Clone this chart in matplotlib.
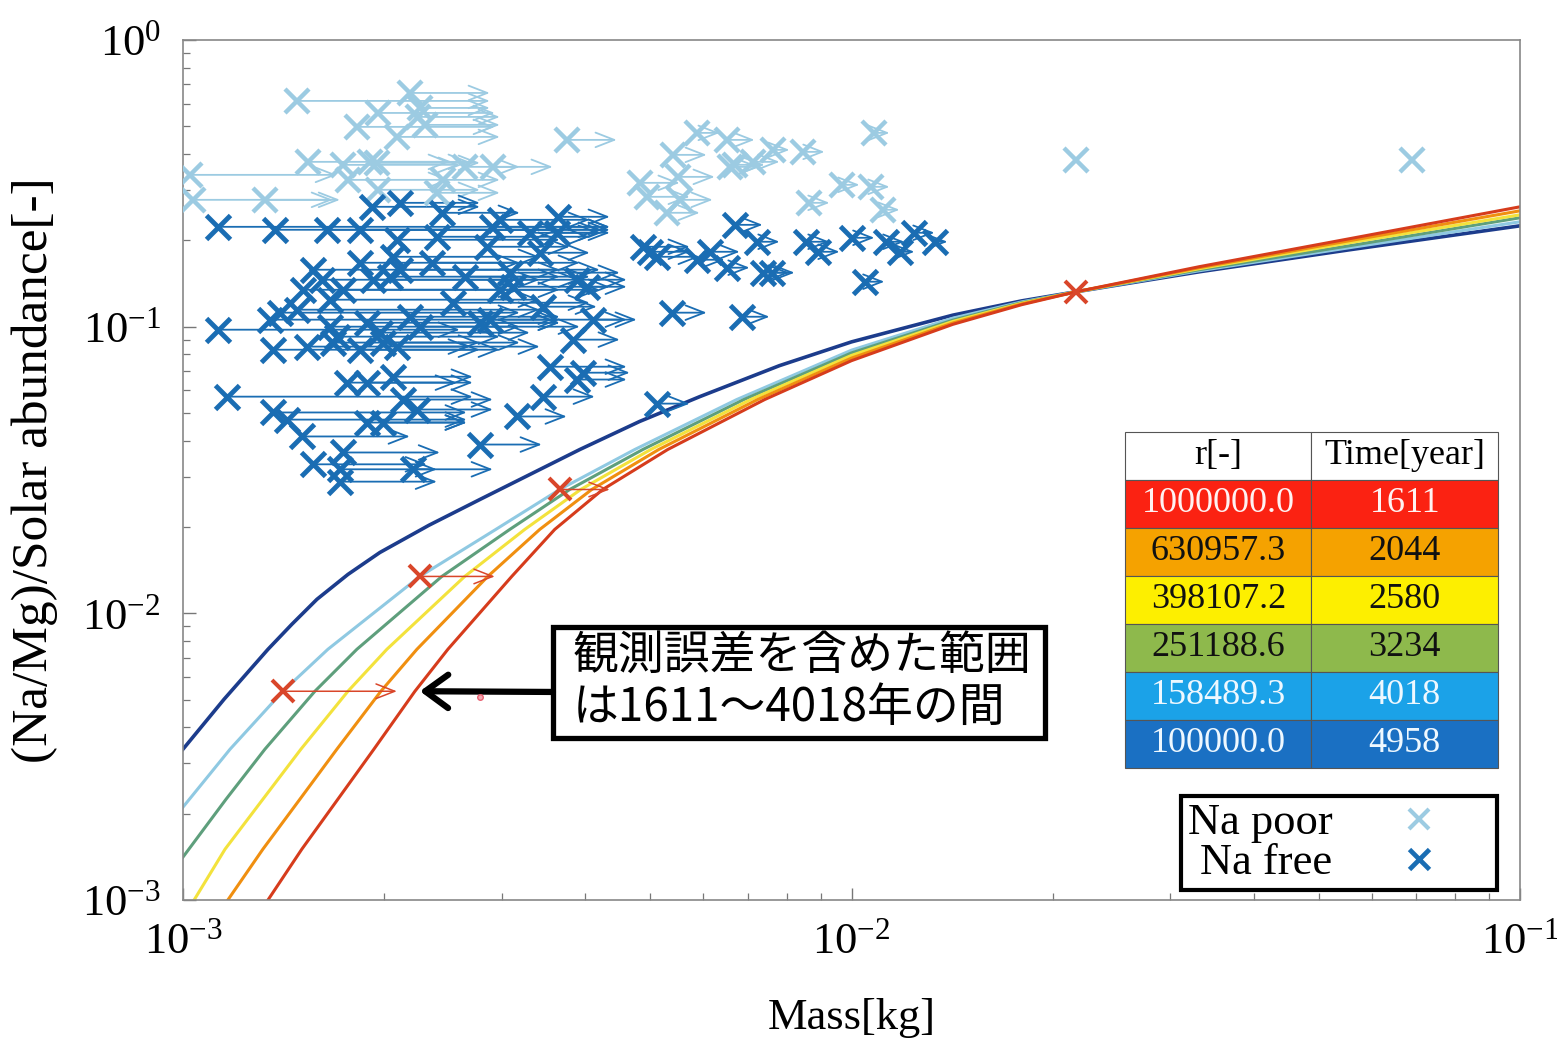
import numpy as np
import matplotlib
matplotlib.use('Agg')
import matplotlib.pyplot as plt
from matplotlib.lines import Line2D
from matplotlib.patches import Rectangle

plt.rcParams['font.family'] = ['Liberation Serif', 'DejaVu Serif']
plt.rcParams['mathtext.fontset'] = 'custom'
plt.rcParams['mathtext.rm'] = 'Liberation Serif'

# ---------------- model curves (one per r value) ----------------
curve_colors = ['#1c3c8c', '#8fc9e2', '#5e9f7c', '#f3e23c', '#f08f10', '#d63c1c']
curve_lw = [2.6, 2.2, 2.2, 2.2, 2.2, 2.2]

navy_x = [1.000e-3, 1.152e-3, 1.340e-3, 1.455e-3, 1.586e-3, 1.765e-3, 1.970e-3, 2.334e-3, 2.780e-3, 3.922e-3,
          4.82e-3, 5.929e-3, 7.80e-3, 1.0e-2, 1.418e-2, 1.797e-2, 2.170e-2, 3.313e-2, 5.553e-2, 1.0e-1]
navy_y = [3.358e-3, 5.016e-3, 7.490e-3, 9.16e-3, 1.119e-2, 1.367e-2, 1.630e-2, 2.03e-2, 2.495e-2, 3.727e-2,
          4.67e-2, 5.70e-2, 7.31e-2, 8.85e-2, 0.1097, 0.1230, 0.1324, 0.1554, 0.1854, 0.2248]

lblue_x = [1.000e-3, 1.176e-3, 1.411e-3, 1.647e-3, 2.261e-3, 2.937e-3, 3.660e-3, 4.739e-3, 6.733e-3,
           1.0e-2, 1.418e-2, 1.797e-2, 2.170e-2, 3.313e-2, 5.553e-2, 1.0e-1]
lblue_y = [2.109e-3, 3.358e-3, 5.348e-3, 7.490e-3, 1.345e-2, 1.962e-2, 2.704e-2, 3.727e-2, 5.567e-2,
           8.28e-2, 0.1071, 0.1220, 0.1324, 0.1567, 0.1885, 0.2322]

teal_x = [1.000e-3, 1.160e-3, 1.326e-3, 1.575e-3, 1.820e-3, 2.439e-3, 3.082e-3, 3.789e-3, 4.872e-3,
          6.898e-3, 1.0e-2, 1.418e-2, 1.797e-2, 2.170e-2, 3.313e-2, 5.553e-2, 1.0e-1]
teal_y = [1.412e-3, 2.248e-3, 3.358e-3, 5.348e-3, 7.490e-3, 1.345e-2, 1.962e-2, 2.704e-2, 3.727e-2,
          5.567e-2, 8.10e-2, 0.1054, 0.1213, 0.1324, 0.1580, 0.1915, 0.2398]

yellow_x = [1.039e-3, 1.156e-3, 1.317e-3, 1.501e-3, 1.765e-3, 2.018e-3, 2.639e-3, 3.245e-3, 3.935e-3,
            5.007e-3, 7.063e-3, 1.0e-2, 1.418e-2, 1.797e-2, 2.170e-2, 3.313e-2, 5.553e-2, 1.0e-1]
yellow_y = [1.000e-3, 1.505e-3, 2.248e-3, 3.358e-3, 5.348e-3, 7.490e-3, 1.345e-2, 1.962e-2, 2.704e-2,
            3.727e-2, 5.567e-2, 7.94e-2, 0.1043, 0.1207, 0.1324, 0.1593, 0.1962, 0.2456]

orange_x = [1.167e-3, 1.317e-3, 1.496e-3, 1.699e-3, 1.977e-3, 2.238e-3, 2.857e-3, 3.417e-3, 4.087e-3,
            5.147e-3, 7.235e-3, 1.0e-2, 1.418e-2, 1.797e-2, 2.170e-2, 3.313e-2, 5.553e-2, 1.0e-1]
orange_y = [1.000e-3, 1.505e-3, 2.248e-3, 3.358e-3, 5.348e-3, 7.490e-3, 1.345e-2, 1.962e-2, 2.704e-2,
            3.727e-2, 5.567e-2, 7.77e-2, 0.1030, 0.1200, 0.1324, 0.1606, 0.1994, 0.2536]

red_x = [1.340e-3, 1.506e-3, 1.705e-3, 1.930e-3, 2.223e-3, 2.490e-3, 3.103e-3, 3.598e-3, 4.245e-3,
         5.309e-3, 7.413e-3, 1.0e-2, 1.418e-2, 1.797e-2, 2.170e-2, 3.313e-2, 5.553e-2, 1.0e-1]
red_y = [1.000e-3, 1.505e-3, 2.248e-3, 3.358e-3, 5.348e-3, 7.490e-3, 1.345e-2, 1.962e-2, 2.704e-2,
         3.727e-2, 5.567e-2, 7.61e-2, 0.1019, 0.1193, 0.1324, 0.1619, 0.2026, 0.2619]

curves_x = [navy_x, lblue_x, teal_x, yellow_x, orange_x, red_x]
curves_y = [navy_y, lblue_y, teal_y, yellow_y, orange_y, red_y]

# ---------------- red markers (observation with errors) ----------------
obs_mass = [1.411e-3, 2.261e-3, 3.660e-3, 2.17e-2]
obs_ratio = [5.348e-3, 1.345e-2, 2.704e-2, 0.1324]
obs_mass_end = [2.089e-3, 2.927e-3, 4.349e-3, np.nan]

# ---------------- Na poor (light blue) ----------------
poor_mass = [1.024e-3, 1.035e-3, 1.326e-3, 1.480e-3, 2.184e-3, 1.820e-3, 1.956e-3, 2.089e-3, 2.246e-3, 2.300e-3,
             2.261e-3, 1.538e-3, 1.735e-3, 1.765e-3, 1.903e-3, 1.950e-3, 2.639e-3, 2.907e-3, 2.448e-3, 1.956e-3,
             2.398e-3, 3.750e-3, 5.868e-3, 6.506e-3, 5.401e-3, 7.112e-3, 8.449e-3, 7.620e-3, 6.573e-3, 6.687e-3,
             4.822e-3, 4.939e-3, 5.495e-3, 5.533e-3, 5.291e-3, 1.082e-2, 9.694e-3, 1.071e-2, 1.113e-2, 8.653e-3,
             2.170e-2, 6.898e-2]
poor_ratio = [0.3385, 0.2770, 0.2770, 0.6131, 0.6536, 0.4977, 0.5566, 0.4592, 0.5391, 0.5057,
              0.5795, 0.3758, 0.3669, 0.3252, 0.3758, 0.3728, 0.3610, 0.3610, 0.3252, 0.3002,
              0.2931, 0.4483, 0.4742, 0.4483, 0.3975, 0.3758, 0.4072, 0.4137, 0.3610, 0.3669,
              0.3175, 0.2838, 0.3331, 0.2770, 0.2496, 0.4742, 0.3125, 0.3075, 0.2557, 0.2704,
              0.3819, 0.3819]
poor_mass_end = [1.699e-3, 1.717e-3, 1.676e-3, 2.877e-3, 2.877e-3, 2.927e-3, 2.927e-3, 2.978e-3, 2.978e-3, 2.978e-3,
                 2.877e-3, 2.507e-3, 2.594e-3, 2.507e-3, 2.685e-3, 2.780e-3, 3.190e-3, 3.573e-3, 2.978e-3, 2.780e-3,
                 2.978e-3, 4.455e-3, 6.351e-3, 7.161e-3, 6.073e-3, 7.805e-3, 9.113e-3, 8.078e-3, 7.286e-3, 7.413e-3,
                 5.533e-3, 5.728e-3, 6.243e-3, 6.200e-3, 5.929e-3, 1.140e-2, 1.028e-2, 1.140e-2, 1.180e-2, 9.271e-3,
                 np.nan, np.nan]

# ---------------- Na free (dark blue) ----------------
free_mass = [1.128e-3, 1.373e-3, 1.642e-3, 1.839e-3, 1.916e-3, 2.110e-3, 2.439e-3, 2.089e-3, 2.398e-3, 2.897e-3,
             2.978e-3, 3.302e-3, 3.635e-3, 3.622e-3, 3.417e-3, 2.847e-3, 1.839e-3, 2.060e-3, 2.356e-3, 1.564e-3,
             1.614e-3, 1.512e-3, 1.735e-3, 1.659e-3, 1.923e-3, 2.039e-3, 2.110e-3, 2.639e-3, 3.082e-3, 3.114e-3,
             3.881e-3, 4.018e-3, 2.533e-3, 2.978e-3, 3.453e-3, 1.128e-3, 1.349e-3, 1.396e-3, 1.480e-3, 1.659e-3,
             1.699e-3, 1.884e-3, 1.970e-3, 2.184e-3, 2.261e-3, 2.780e-3, 2.877e-3, 4.101e-3, 3.828e-3, 1.363e-3,
             1.532e-3, 1.676e-3, 1.839e-3, 1.991e-3, 2.089e-3, 3.537e-3, 3.881e-3, 3.962e-3, 1.163e-3, 1.759e-3,
             1.884e-3, 2.060e-3, 2.132e-3, 2.238e-3, 3.453e-3, 3.157e-3, 1.363e-3, 1.431e-3, 1.506e-3, 1.884e-3,
             1.991e-3, 2.780e-3, 1.564e-3, 1.735e-3, 1.717e-3, 1.717e-3, 2.207e-3, 6.687e-3, 7.211e-3, 8.563e-3,
             8.896e-3, 1.003e-2, 1.128e-2, 1.180e-2, 1.242e-2, 1.331e-2, 4.872e-3, 5.112e-3, 4.990e-3, 5.868e-3,
             6.136e-3, 6.506e-3, 7.362e-3, 7.594e-3, 1.046e-2, 5.383e-3, 6.851e-3, 5.112e-3]
free_ratio = [0.2230, 0.2178, 0.2178, 0.2178, 0.2619, 0.2704, 0.2496, 0.2010, 0.2059, 0.2230,
              0.2359, 0.2126, 0.2417, 0.2126, 0.1811, 0.1900, 0.1671, 0.1753, 0.1671, 0.1580,
              0.1458, 0.1345, 0.1345, 0.1242, 0.1458, 0.1494, 0.1580, 0.1494, 0.1543, 0.1378,
              0.1458, 0.1378, 0.1212, 0.1345, 0.1174, 0.0976, 0.1058, 0.1119, 0.1146, 0.1000,
              0.0923, 0.1032, 0.0953, 0.1083, 0.1000, 0.1032, 0.1058, 0.1058, 0.0901, 0.0831,
              0.0852, 0.0880, 0.0831, 0.0880, 0.0852, 0.0725, 0.0654, 0.0691, 0.0570, 0.0638,
              0.0638, 0.0669, 0.0557, 0.0514, 0.0570, 0.0486, 0.0502, 0.0474, 0.0414, 0.0463,
              0.0463, 0.0388, 0.0331, 0.0364, 0.0318, 0.0288, 0.0318, 0.2266, 0.1978, 0.1978,
              0.1825, 0.2042, 0.1978, 0.1825, 0.2126, 0.1978, 0.1900, 0.1753, 0.1825, 0.1712,
              0.1825, 0.1606, 0.1543, 0.1543, 0.1435, 0.1119, 0.1083, 0.0539]
free_mass_end = [4.349e-3, 4.349e-3, 4.202e-3, 3.660e-3, 2.780e-3, 2.780e-3, 3.190e-3, 3.660e-3, 4.059e-3, 4.349e-3,
                 4.059e-3, 4.349e-3, 4.349e-3, 4.202e-3, 4.059e-3, 3.789e-3, 3.190e-3, 3.417e-3, 3.922e-3, 3.660e-3,
                 3.417e-3, 3.190e-3, 3.660e-3, 3.417e-3, 3.922e-3, 3.660e-3, 4.202e-3, 4.059e-3, 4.501e-3, 4.349e-3,
                 4.611e-3, 4.611e-3, 4.059e-3, 4.202e-3, 4.159e-3, 2.594e-3, 3.660e-3, 3.190e-3, 3.417e-3, 3.190e-3,
                 2.978e-3, 3.660e-3, 3.302e-3, 3.660e-3, 3.922e-3, 3.660e-3, 4.611e-3, 4.772e-3, 4.501e-3, 2.780e-3,
                 2.685e-3, 2.780e-3, 2.978e-3, 3.190e-3, 3.417e-3, 4.611e-3, 4.611e-3, 4.659e-3, 2.713e-3, 2.713e-3,
                 2.568e-3, 2.713e-3, 2.907e-3, 2.907e-3, 4.130e-3, 3.750e-3, 2.657e-3, 2.657e-3, 2.184e-3, 2.657e-3,
                 2.657e-3, 3.441e-3, 2.316e-3, 2.423e-3, 2.907e-3, 2.398e-3, 2.398e-3, 7.362e-3, 7.805e-3, 9.271e-3,
                 9.596e-3, 1.082e-2, 1.200e-2, 1.242e-2, 1.331e-2, 1.392e-2, 5.728e-3, 5.929e-3, 5.728e-3, 6.461e-3,
                 6.804e-3, 7.039e-3, 8.078e-3, 8.219e-3, 1.120e-2, 6.073e-3, 7.540e-3, 5.728e-3]

# ---------------- table ----------------
table_r = ['1000000.0', '630957.3', '398107.2', '251188.6', '158489.3', '100000.0']
table_time = ['1611', '2044', '2580', '3234', '4018', '4958']
table_colors = ['#fb2212', '#f5a200', '#fdef00', '#8eb94c', '#1ba2e8', '#1a70c3']
table_text_colors = ['#fff2f2', '#111111', '#111111', '#111111', '#eef8ff', '#eef8ff']

xticks = [1e-3, 1e-2, 1e-1]
xtick_labels = [r'$\mathregular{10^{-3}}$', r'$\mathregular{10^{-2}}$', r'$\mathregular{10^{-1}}$']
yticks = [1e-3, 1e-2, 1e-1, 1e0]
ytick_labels = [r'$\mathregular{10^{-3}}$', r'$\mathregular{10^{-2}}$', r'$\mathregular{10^{-1}}$', r'$\mathregular{10^{0}}$']

note_text = '観測誤差を含めた範囲\nは1611～4018年の間'
note_target = (2.24e-3, 5.35e-3)

poor_color = '#9ccbe2'
free_color = '#1a6db3'
obs_color = '#d9462a'

fig = plt.figure(figsize=(15.57, 10.44), dpi=100)
ax = fig.add_axes([183 / 1557, 1 - 900 / 1044, 1337 / 1557, 860 / 1044])
ax.set_xscale('log')
ax.set_yscale('log')
ax.set_xlim(1e-3, 1e-1)
ax.set_ylim(1e-3, 1e0)

for cx, cy, c, lw in zip(curves_x, curves_y, curve_colors, curve_lw):
    ax.plot(cx, cy, color=c, lw=lw, zorder=2, solid_joinstyle='round')

def draw_arrows(xs, ys, xe, color, lw, ms):
    for x0, y0, x1 in zip(xs, ys, xe):
        if np.isnan(x1):
            continue
        ax.annotate('', xy=(x1, y0), xytext=(x0, y0),
                    arrowprops=dict(arrowstyle='->,head_length=0.9,head_width=0.35',
                                    color=color, lw=lw, shrinkA=0, shrinkB=0,
                                    mutation_scale=ms), zorder=3)

draw_arrows(poor_mass, poor_ratio, poor_mass_end, poor_color, 1.3, 15)
ax.plot(poor_mass, poor_ratio, linestyle='none', marker='x', ms=17, mew=3.2,
        color=poor_color, zorder=4)
draw_arrows(free_mass, free_ratio, free_mass_end, free_color, 1.3, 15)
ax.plot(free_mass, free_ratio, linestyle='none', marker='x', ms=17, mew=3.5,
        color=free_color, zorder=5)

draw_arrows(obs_mass, obs_ratio, obs_mass_end, obs_color, 1.1, 15)
ax.plot(obs_mass, obs_ratio, linestyle='none', marker='x', ms=16, mew=2.9,
        color=obs_color, zorder=6)

# ticks
ax.set_xticks(xticks)
ax.set_xticklabels(xtick_labels)
ax.set_yticks(yticks)
ax.set_yticklabels(ytick_labels)
ax.tick_params(which='major', direction='in', length=9, width=1.0, color='#777777',
               labelsize=32, pad=16, top=False, right=False)
ax.tick_params(which='minor', direction='in', length=5, width=0.9, color='#777777',
               top=False, right=False)
ax.tick_params(axis='x', which='major', pad=16)
for sp in ax.spines.values():
    sp.set_color('#888888')
    sp.set_linewidth(1.2)

ax.set_xlabel('Mass[kg]', fontsize=32, labelpad=26)
ax.set_ylabel('(Na/Mg)/Solar abundance[-]', fontsize=37, labelpad=17)

# table
cell_text = [[r, t] for r, t in zip(table_r, table_time)]
cell_cols = [[c, c] for c in table_colors]
tbl = ax.table(cellText=cell_text, colLabels=['r[-]', 'Time[year]'],
               cellColours=cell_cols, colColours=['white', 'white'],
               cellLoc='center', bbox=[0.7046, 0.1535, 0.2789, 0.3907], zorder=7)
tbl.auto_set_font_size(False)
tbl.set_fontsize(26)
for (row, col), cell in tbl.get_celld().items():
    cell.set_edgecolor('#555555')
    cell.set_linewidth(0.8)
    if row > 0:
        cell.get_text().set_color(table_text_colors[row - 1])

# legend
h_poor = Line2D([], [], linestyle='none', marker='x', ms=15, mew=3, color=poor_color)
h_free = Line2D([], [], linestyle='none', marker='x', ms=15, mew=3.4, color=free_color)
leg = ax.legend([h_poor, h_free], ['Na poor', 'Na free'], markerfirst=False,
                loc='lower right', bbox_to_anchor=(0.9828, 0.0116), fontsize=32,
                frameon=True, fancybox=False, edgecolor='black', framealpha=1,
                handlelength=3.2, handletextpad=0.35, borderpad=0.15, labelspacing=0.0,
                borderaxespad=0)
leg.get_frame().set_linewidth(3)

# annotation box + arrow
ax.add_patch(Rectangle((0.2767, 0.1884), 0.3680, 0.1290, transform=ax.transAxes,
                       fc='white', ec='black', lw=3.8, zorder=8))
ax.text(0.2917, 0.2535, note_text, transform=ax.transAxes, ha='left', va='center',
        fontsize=33, linespacing=1.1, family=['Noto Sans CJK JP', 'DejaVu Sans'], zorder=9)
ax.annotate('', xy=note_target, xycoords='data',
            xytext=(0.2767, 0.2419), textcoords='axes fraction',
            arrowprops=dict(arrowstyle='->,head_length=0.55,head_width=0.4', color='black',
                            lw=4.5, shrinkA=0, shrinkB=2, mutation_scale=30),
            zorder=8)

ax.plot([2.78e-3], [5.1e-3], linestyle='none', marker='o', ms=4, mfc='#f3a9b2',
        mec='#e86070', mew=1, zorder=9)

fig.savefig('out.png', dpi=100)
